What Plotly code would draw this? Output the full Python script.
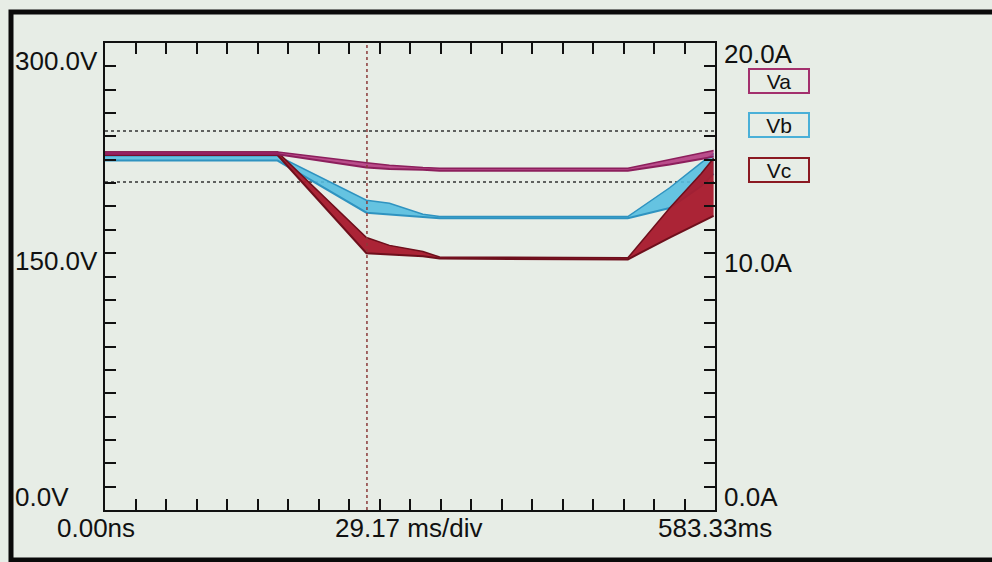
import plotly.graph_objects as go

# ---- data ----
t_ms = [0, 165, 250, 272, 304, 320, 500, 540, 570, 582]

va_hi = [230, 230, 223, 221.5, 220, 219.5, 219.5, 225, 229, 231]
va_lo = [228.5, 228.5, 220, 219, 218.5, 218, 218, 222, 225.5, 227]

vb_hi = [227.5, 227.5, 199, 197, 190, 188.5, 188.5, 207, 223, 229]
vb_lo = [224.5, 224.5, 191, 190, 188.5, 187.5, 187.5, 194, 208, 216]

vc_hi = [230, 230, 175, 170, 166, 162.5, 162, 194, 216, 226]
vc_lo = [228, 228, 165, 164, 163, 161.5, 161, 175, 185, 189]

ref_levels = [243.5, 210.7]
cursor_ms = 250.5

x_range = [0, 583.33]
y_range = [0, 300]
x_div = 29.1667
y_div = 15

left_labels = ["300.0V", "150.0V", "0.0V"]
right_labels = ["20.0A", "10.0A", "0.0A"]
bottom_labels = ["0.00ns", "29.17 ms/div", "583.33ms"]
series_names = ["Va", "Vb", "Vc"]

# ---- styling ----
BG = "#e7ede6"
FONT = "Liberation Sans, Arial, sans-serif"
L, R, T, B = 105, 715, 43, 510
W, H = 992, 562


def px(x):
    return (x - L) / (R - L)


def py(y):
    return (B - y) / (B - T)


colors = {
    "Va": dict(line="#8c1f5c", fill="rgba(178,48,122,0.85)", box="#a3306d"),
    "Vb": dict(line="#2f93c0", fill="rgba(86,190,224,0.9)", box="#4ab0d8"),
    "Vc": dict(line="#6e0f1c", fill="rgba(168,25,44,0.95)", box="#8b1a22"),
}

fig = go.Figure()

# reference dashed lines
for lv in ref_levels:
    fig.add_trace(go.Scatter(x=x_range, y=[lv, lv], mode="lines",
                             line=dict(color="#333333", width=1.5, dash="dot"),
                             showlegend=False, hoverinfo="skip"))

for name, hi, lo in [("Vb", vb_hi, vb_lo), ("Vc", vc_hi, vc_lo), ("Va", va_hi, va_lo)]:
    c = colors[name]
    fig.add_trace(go.Scatter(x=t_ms, y=hi, mode="lines", line=dict(color=c["line"], width=1.5),
                             showlegend=False, name=name))
    fig.add_trace(go.Scatter(x=t_ms, y=lo, mode="lines", line=dict(color=c["line"], width=2),
                             fill="tonexty", fillcolor=c["fill"], showlegend=False, name=name))

# cursor line
fig.add_trace(go.Scatter(x=[cursor_ms, cursor_ms], y=y_range, mode="lines",
                         line=dict(color="#8a3a3a", width=1.5, dash="dot"),
                         showlegend=False, hoverinfo="skip"))

ann = []
lab_font = dict(family=FONT, size=26, color="#111111")
for txt, yy in zip(left_labels, [61, 261, 497]):
    ann.append(dict(text=txt, x=px(13), y=py(yy), xref="paper", yref="paper",
                    xanchor="left", yanchor="middle", showarrow=False, font=lab_font))
for txt, yy in zip(right_labels, [54, 263, 497]):
    ann.append(dict(text=txt, x=px(722), y=py(yy), xref="paper", yref="paper",
                    xanchor="left", yanchor="middle", showarrow=False, font=lab_font))
for txt, xx in zip(bottom_labels, [96, 408, 715]):
    ann.append(dict(text=txt, x=px(xx), y=py(528), xref="paper", yref="paper",
                    xanchor="center", yanchor="middle", showarrow=False, font=lab_font))
for name, yy in zip(series_names, [81, 125, 170]):
    ann.append(dict(text=name, x=px(779), y=py(yy), xref="paper", yref="paper",
                    xanchor="center", yanchor="middle", showarrow=False,
                    font=dict(family=FONT, size=21, color="#111111"),
                    bordercolor=colors[name]["box"], borderwidth=2, borderpad=0,
                    width=58, height=22, bgcolor=BG))

shapes = [dict(type="rect", xref="paper", yref="paper",
               x0=px(11), x1=px(1010), y0=py(560), y1=py(12),
               line=dict(color="#0a0a0a", width=5), layer="below")]

axis_common = dict(showline=True, linecolor="#111111", linewidth=2, mirror="ticks",
                   ticks="inside", ticklen=11, tickwidth=2, tickcolor="#111111",
                   showticklabels=False, showgrid=False, zeroline=False)

fig.update_layout(
    width=W, height=H,
    margin=dict(l=L, r=W - R, t=T, b=H - B),
    paper_bgcolor=BG, plot_bgcolor=BG,
    xaxis=dict(range=x_range, tick0=0, dtick=x_div, **axis_common),
    yaxis=dict(range=y_range, tick0=0, dtick=y_div, **axis_common),
    annotations=ann, shapes=shapes,
    showlegend=False,
)

fig.write_html("out.html", config={"displayModeBar": False},
               post_script="document.body.style.margin='0';document.body.style.overflow='hidden';")
